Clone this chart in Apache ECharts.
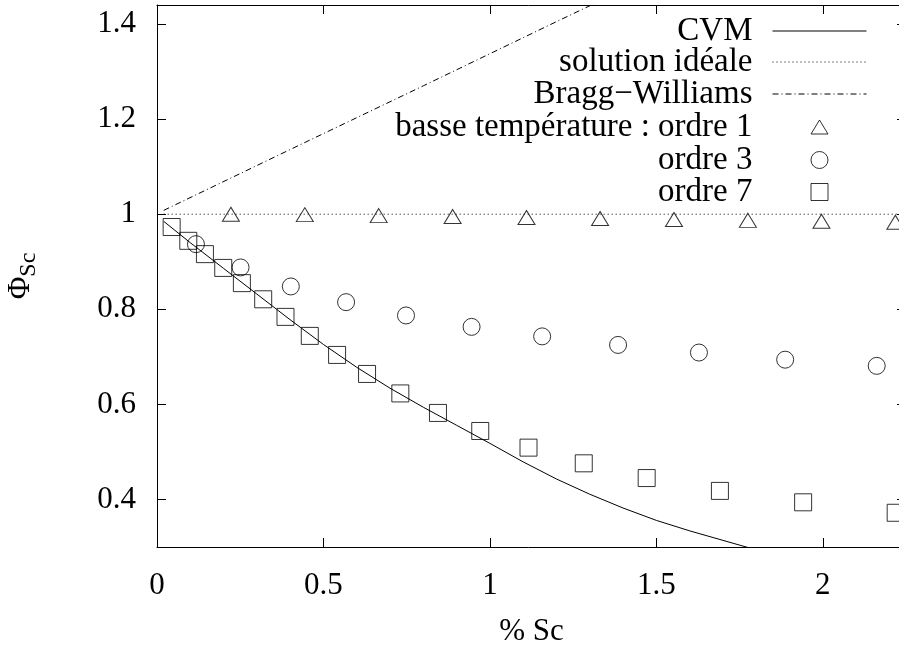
<!DOCTYPE html>
<html><head><meta charset="utf-8">
<script src="https://cdn.jsdelivr.net/npm/echarts@6/dist/echarts.min.js"></script>
<style>html,body{margin:0;padding:0;background:#fff}#c{width:899px;height:646px}</style>
</head><body><div id="c"></div>
<script>
// ---- data ----
const xTicks = [0, 0.5, 1, 1.5, 2];
const yTicks = [0.4, 0.6, 0.8, 1, 1.2, 1.4];
const seriesNames = ['CVM', 'solution idéale', 'Bragg\u2212Williams', 'basse température : ordre 1', 'ordre 3', 'ordre 7'];
const cvm = [[0.02,0.985],[0.1,0.94],[0.2,0.886],[0.3,0.832],[0.4,0.778],[0.5,0.726],[0.6,0.678],[0.7,0.634],[0.8,0.594],[0.9,0.556],[1.0,0.518],[1.1,0.479],[1.2,0.443],[1.3,0.411],[1.4,0.382],[1.5,0.356],[1.6,0.334],[1.7,0.314],[1.8,0.294]];
const ideale = [[0.02,1],[2.25,1]];
const braggWilliams = [[0.02,1.008],[0.4,1.136],[0.8,1.27],[1.2,1.405],[1.35,1.455]];
const ordre1 = [[0.222,1.0],[0.444,0.999],[0.666,0.997],[0.888,0.995],[1.110,0.993],[1.331,0.991],[1.553,0.989],[1.775,0.987],[1.996,0.985],[2.218,0.983]];
const ordre3 = [[0.117,0.937],[0.251,0.888],[0.402,0.848],[0.568,0.815],[0.748,0.787],[0.945,0.763],[1.157,0.743],[1.385,0.725],[1.628,0.709],[1.887,0.694],[2.162,0.681]];
const ordre7 = [[0.044,0.973],[0.094,0.944],[0.144,0.916],[0.199,0.887],[0.255,0.855],[0.319,0.821],[0.386,0.784],[0.459,0.744],[0.541,0.704],[0.631,0.664],[0.731,0.623],[0.844,0.582],[0.971,0.544],[1.116,0.509],[1.282,0.476],[1.471,0.445],[1.691,0.418],[1.941,0.394],[2.219,0.372]];

// ---- chart ----
const FONT = 'Liberation Serif';
const FS = 31;
const LFS = 33;
const chart = echarts.init(document.getElementById('c'), null, {renderer: 'canvas'});
const black = '#000';
const axisCommon = {
  axisLine: {show: true, onZero: false, lineStyle: {color: black, width: 1}},
  splitLine: {show: false},
};
const markerStyle = {color: 'transparent', borderColor: black, borderWidth: 1};

// legend rows (centres) and layout
const rowCenters = [31, 62, 94, 127, 160, 192];
const legends = seriesNames.map((name, i) => {
  const isLine = i < 3;
  const iw = isLine ? 94 : 17;
  const ih = isLine ? 2 : (i === 3 ? 14 : 17);
  const iconRight = isLine ? 867 : 820 + iw / 2;
  const iconLeft = iconRight - iw;
  return {
    data: [name],
    orient: 'vertical',
    align: 'right',
    right: 899 - iconRight,
    top: rowCenters[i] - 17,
    padding: 0,
    itemWidth: iw,
    itemHeight: ih,
    selectedMode: false,
    itemStyle: isLine ? {color: 'transparent', borderWidth: 0, opacity: 0} : {borderWidth: 1},
    lineStyle: {width: 1},
    textStyle: {fontFamily: FONT, fontSize: LFS, color: black, lineHeight: 34,
      padding: [0, iconLeft - 5 - 753, 0, 0]}
  };
});

chart.setOption({
  animation: false,
  backgroundColor: '#fff',
  textStyle: {fontFamily: FONT},
  grid: {left: 157, top: 5, right: -7, bottom: 99, containLabel: false, outerBoundsMode: 'none'},
  legend: legends,
  xAxis: [{
    ...axisCommon,
    type: 'value', min: 0, max: 2.25, position: 'bottom',
    name: '% Sc', nameLocation: 'middle', nameGap: 69,
    nameTextStyle: {fontFamily: FONT, fontSize: FS, color: black},
    axisTick: {show: true, inside: true, length: 9, customValues: xTicks, lineStyle: {color: black}},
    axisLabel: {show: true, margin: 23, fontFamily: FONT, fontSize: FS, color: black, customValues: xTicks}
  }, {
    ...axisCommon,
    type: 'value', min: 0, max: 2.25, position: 'top',
    axisTick: {show: true, inside: true, length: 9, customValues: xTicks, lineStyle: {color: black}},
    axisLabel: {show: false}
  }],
  yAxis: [{
    ...axisCommon,
    type: 'value', min: 0.3, max: 1.44, position: 'left',
    name: '{phi|Φ}{sub|Sc}', nameLocation: 'middle', nameRotate: 90, nameGap: 116,
    nameTextStyle: {
      rich: {
        phi: {fontFamily: FONT, fontSize: 31, lineHeight: 40, verticalAlign: 'middle', color: black},
        sub: {fontFamily: FONT, fontSize: 24, lineHeight: 20, verticalAlign: 'bottom', color: black}
      }
    },
    axisTick: {show: true, inside: true, length: 9, customValues: yTicks, lineStyle: {color: black}},
    axisLabel: {show: true, margin: 21, fontFamily: FONT, fontSize: FS, color: black, customValues: yTicks,
      formatter: v => String(Math.round(v * 10) / 10)}
  }, {
    ...axisCommon,
    type: 'value', min: 0.3, max: 1.44, position: 'right',
    axisTick: {show: true, inside: true, length: 9, customValues: yTicks, lineStyle: {color: black}},
    axisLabel: {show: false}
  }],
  series: [
    {name: seriesNames[0], type: 'line', data: cvm, symbol: 'none', showSymbol: false, clip: true,
     lineStyle: {color: black, width: 1, type: 'solid'}, itemStyle: {color: black}, z: 2},
    {name: seriesNames[1], type: 'line', data: ideale, symbol: 'none', showSymbol: false, clip: true,
     lineStyle: {color: black, width: 1, type: [1, 3]}, itemStyle: {color: black}, z: 2},
    {name: seriesNames[2], type: 'line', data: braggWilliams, symbol: 'none', showSymbol: false, clip: true,
     lineStyle: {color: black, width: 1, type: [6, 3, 1, 3]}, itemStyle: {color: black}, z: 2},
    {name: seriesNames[3], type: 'scatter', data: ordre1, symbol: 'triangle', symbolSize: [17, 14], clip: true,
     itemStyle: markerStyle, z: 3},
    {name: seriesNames[4], type: 'scatter', data: ordre3, symbol: 'circle', symbolSize: 17, clip: true,
     itemStyle: markerStyle, z: 3},
    {name: seriesNames[5], type: 'scatter', data: ordre7, symbol: 'rect', symbolSize: 17, clip: true,
     itemStyle: markerStyle, z: 3}
  ]
});
</script></body></html>
